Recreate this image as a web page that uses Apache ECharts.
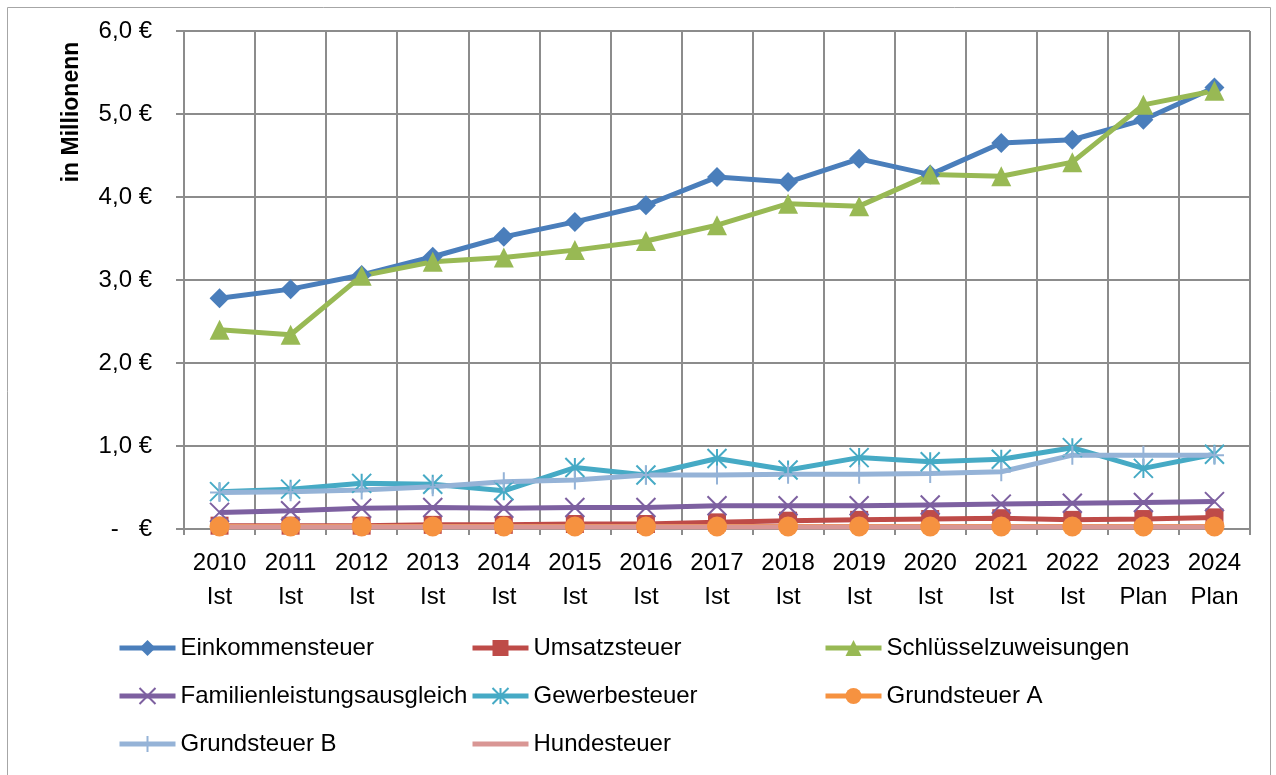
<!DOCTYPE html>
<html>
<head>
<meta charset="utf-8">
<script src="https://cdn.jsdelivr.net/npm/echarts@6/dist/echarts.min.js"></script>
<style>
  html, body { margin: 0; padding: 0; background: #fff; }
  #chart { width: 1276px; height: 775px; }
</style>
</head>
<body>
<div id="chart"></div>
<script>
// Kategorien (Jahr + Ist/Plan)
const categories = ['2010\nIst', '2011\nIst', '2012\nIst', '2013\nIst', '2014\nIst', '2015\nIst', '2016\nIst',
  '2017\nIst', '2018\nIst', '2019\nIst', '2020\nIst', '2021\nIst', '2022\nIst', '2023\nPlan', '2024\nPlan']

// Werte in Mio. €
const einkommensteuer = [2.78, 2.89, 3.06, 3.28, 3.52, 3.70, 3.90, 4.24, 4.18, 4.46, 4.27, 4.65, 4.69, 4.93, 5.32]
const umsatzsteuer = [0.04, 0.04, 0.04, 0.05, 0.05, 0.06, 0.06, 0.08, 0.10, 0.11, 0.12, 0.13, 0.11, 0.12, 0.14]
const schluesselzuweisungen = [2.40, 2.34, 3.05, 3.22, 3.27, 3.36, 3.47, 3.66, 3.92, 3.89, 4.27, 4.25, 4.42, 5.11, 5.28]
const familienleistungsausgleich = [0.20, 0.22, 0.25, 0.26, 0.25, 0.26, 0.26, 0.28, 0.28, 0.28, 0.29, 0.30, 0.31, 0.32, 0.33]
const gewerbesteuer = [0.45, 0.48, 0.55, 0.54, 0.46, 0.74, 0.65, 0.85, 0.71, 0.86, 0.81, 0.84, 0.98, 0.73, 0.90]
const grundsteuerA = [0.03, 0.03, 0.03, 0.03, 0.03, 0.03, 0.03, 0.03, 0.03, 0.03, 0.03, 0.03, 0.03, 0.03, 0.03]
const grundsteuerB = [0.44, 0.45, 0.47, 0.51, 0.57, 0.59, 0.65, 0.65, 0.66, 0.66, 0.67, 0.69, 0.89, 0.89, 0.89]
const hundesteuer = [0.025, 0.025, 0.025, 0.025, 0.025, 0.025, 0.025, 0.025, 0.025, 0.025, 0.025, 0.025, 0.025, 0.025, 0.025]

const yTicks = { min: 0, max: 6, interval: 1 }

const FONT = 'Liberation Sans'
const GRID_COLOR = '#8c8c8c'

// Excel-Markierungen als Pfade (X, +, *)
const SYM_X = 'path://M0,0L10,10M10,0L0,10'
const SYM_PLUS = 'path://M5,0L5,10M0,5L10,5'
const SYM_STAR = 'path://M0,0L10,10M10,0L0,10M5,0L5,10'

function lineSeries(name, data, color, symbol, size, stroked) {
  return {
    name: name,
    type: 'line',
    data: data,
    symbol: symbol,
    symbolSize: size,
    showAllSymbol: true,
    lineStyle: { color: color, width: 5 },
    itemStyle: stroked
      ? { color: color, borderColor: color, borderWidth: 2 }
      : { color: color, borderWidth: 0 },
    emphasis: { disabled: true }
  }
}

const chart = echarts.init(document.getElementById('chart'))

const legendBase = {
  orient: 'vertical',
  top: 634,
  padding: 0,
  itemWidth: 56,
  itemHeight: 20,
  itemGap: 20,
  lineStyle: { width: 5 },
  textStyle: { fontFamily: FONT, fontSize: 24, lineHeight: 28, color: '#000' }
}

const option = {
  animation: false,
  textStyle: { fontFamily: FONT },
  grid: { left: 184, right: 26, top: 31, bottom: 246, containLabel: false },
  graphic: [
    {
      type: 'rect',
      shape: { x: 7.5, y: 7.5, width: 1263, height: 800 },
      style: { fill: 'none', stroke: '#a6a6a6', lineWidth: 1 },
      silent: true
    },
    {
      type: 'text',
      x: 72,
      y: 112,
      rotation: Math.PI / 2,
      style: {
        text: 'in Millionenn',
        font: 'bold 23px "Liberation Sans"',
        fill: '#000',
        align: 'center',
        verticalAlign: 'middle'
      }
    }
  ],
  legend: [
    Object.assign({}, legendBase, { left: 117, data: ['Einkommensteuer', 'Familienleistungsausgleich', 'Grundsteuer B'] }),
    Object.assign({}, legendBase, {
      left: 470,
      data: ['Umsatzsteuer', 'Gewerbesteuer', { name: 'Hundesteuer', itemStyle: { opacity: 0 } }]
    }),
    Object.assign({}, legendBase, { left: 823, data: ['Schlüsselzuweisungen', 'Grundsteuer A'] })
  ],
  xAxis: {
    type: 'category',
    data: categories,
    boundaryGap: true,
    axisLine: { lineStyle: { color: GRID_COLOR, width: 2 } },
    axisTick: { show: true, length: 6, lineStyle: { color: GRID_COLOR, width: 2 } },
    splitLine: { show: true, lineStyle: { color: GRID_COLOR, width: 2 } },
    axisLabel: { fontFamily: FONT, fontSize: 24, lineHeight: 34, color: '#000', margin: 17 }
  },
  yAxis: {
    type: 'value',
    min: yTicks.min,
    max: yTicks.max,
    interval: yTicks.interval,
    axisLine: { show: true, lineStyle: { color: GRID_COLOR, width: 2 } },
    axisTick: { show: true, length: 8, lineStyle: { color: GRID_COLOR, width: 2 } },
    splitLine: { show: true, lineStyle: { color: GRID_COLOR, width: 2 } },
    axisLabel: {
      fontFamily: FONT,
      fontSize: 24,
      color: '#000',
      margin: 32,
      formatter: function (v) {
        if (v === 0) return '-   €'
        return v.toFixed(1).replace('.', ',') + ' €'
      }
    }
  },
  series: [
    lineSeries('Einkommensteuer', einkommensteuer, '#4A7EBB', 'diamond', 20, false),
    lineSeries('Umsatzsteuer', umsatzsteuer, '#BE4B48', 'rect', 18, false),
    lineSeries('Schlüsselzuweisungen', schluesselzuweisungen, '#98B954', 'triangle', 20, false),
    lineSeries('Familienleistungsausgleich', familienleistungsausgleich, '#7D60A0', SYM_X, 19, true),
    lineSeries('Gewerbesteuer', gewerbesteuer, '#46AAC5', SYM_STAR, 19, true),
    lineSeries('Grundsteuer A', grundsteuerA, '#F69240', 'circle', 20, false),
    lineSeries('Grundsteuer B', grundsteuerB, '#95B3D7', SYM_PLUS, 19, true),
    lineSeries('Hundesteuer', hundesteuer, '#D99694', 'none', 0, false)
  ]
}

chart.setOption(option)
</script>
</body>
</html>
